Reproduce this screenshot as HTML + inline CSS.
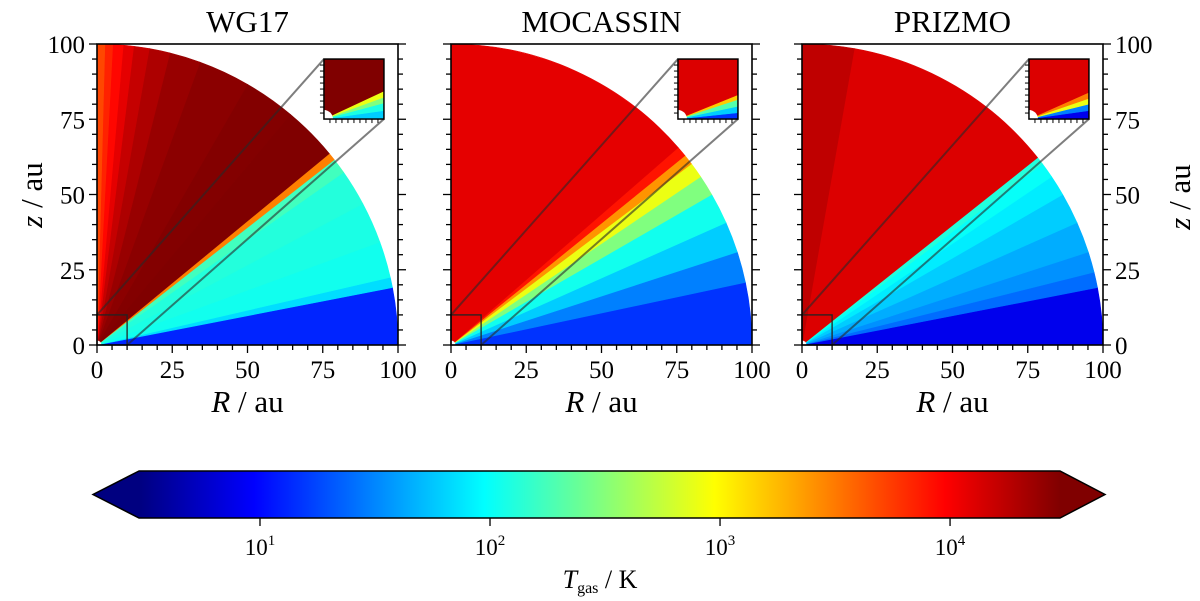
<!DOCTYPE html>
<html><head><meta charset="utf-8"><style>
html,body{margin:0;padding:0;background:#fff}
svg{display:block;font-family:"Liberation Serif",serif}
</style></head><body>
<svg id="fig" width="1200" height="601" viewBox="0 0 1200 601"></svg>
<script>
// ---- data ----
const panelTitles = ["WG17","MOCASSIN","PRIZMO"];
const axisTicks = [0,25,50,75,100];
const wg17Angles = [0,11,13,20,28,35,38,39.5,50,60,70,76,80,83,85,87,88.5,90];
const wg17Temps  = [13,70,110,120,130,170,3000,30000,29000,27000,24000,20000,16000,12000,9000,7000,5000];
const mocAngles = [0,12,18,24,30,34,37,39,41,90];
const mocTemps  = [15,30,60,110,300,800,2500,8000,12000];
const priAngles = [0,11,14,18,24,30,34,37,38.5,80,90];
const priTemps  = [8,25,35,45,60,80,100,130,13000,17000];
const wg17InsetAngles = [0,8,15,20,25,90];
const wg17InsetTemps  = [60,120,300,800,30000];
const mocInsetAngles = [0,6,12,18,22,90];
const mocInsetTemps  = [15,60,200,1500,13000];
const priInsetAngles = [0,8,14,19,24,90];
const priInsetTemps  = [8,30,800,3000,13000];
const cbarTicks = [1,2,3,4];
const cbarMinLog = 0.474, cbarMaxLog = 4.478;

// ---- layout ----
const NS="http://www.w3.org/2000/svg";
const svg=document.getElementById('fig');
const panelX0=[97,451,802], Y0=345, S=3.01;
function el(tag,attrs,parent){const e=document.createElementNS(NS,tag);for(const k in attrs)e.setAttribute(k,attrs[k]);(parent||svg).appendChild(e);return e;}
function jet(x){x=Math.max(0,Math.min(1,x));const c=v=>Math.round(255*Math.max(0,Math.min(1,v)));
 return `rgb(${c(1.5-Math.abs(4*x-3))},${c(1.5-Math.abs(4*x-2))},${c(1.5-Math.abs(4*x-1))})`;}
function tColor(T){return jet((Math.log10(T)-cbarMinLog)/(cbarMaxLog-cbarMinLog));}
function sector(cx,cy,r,a0,a1){const A=a=>a*Math.PI/180;
 return `M${cx},${cy}L${cx+r*Math.cos(A(a0))},${cy-r*Math.sin(A(a0))}A${r},${r} 0 0 0 ${cx+r*Math.cos(A(a1))},${cy-r*Math.sin(A(a1))}Z`;}

const panelAngles=[wg17Angles,mocAngles,priAngles], panelTemps=[wg17Temps,mocTemps,priTemps];
const insetAngles=[wg17InsetAngles,mocInsetAngles,priInsetAngles], insetTemps=[wg17InsetTemps,mocInsetTemps,priInsetTemps];

for(let p=0;p<3;p++){
 const x0=panelX0[p], g=el('g',{},svg);
 
 
 const X=v=>x0+v*S, Y=v=>Y0-v*S;
 const ang=panelAngles[p], tem=panelTemps[p];
 for(let i=0;i<tem.length;i++){
  const s=el('path',{d:sector(X(0),Y(0),100*S,ang[i],ang[i+1]),fill:tColor(tem[i]),stroke:tColor(tem[i]),'stroke-width':0.6},g);
  
  
 }
 el('circle',{cx:X(0),cy:Y(0),r:1.5*S,fill:'#fff'},g);
 const ix=X(75.4), iy=Y(95), iw=60;
 el('rect',{x:X(0),y:Y(10),width:10*S,height:10*S,fill:'none',stroke:'#222','stroke-width':1.3},g);
 el('line',{x1:X(0),y1:Y(10),x2:ix,y2:iy,stroke:'rgba(40,40,40,0.6)','stroke-width':2},g);
 el('line',{x1:X(10),y1:Y(0),x2:ix+iw,y2:iy+iw,stroke:'rgba(40,40,40,0.6)','stroke-width':2},g);
 const ig=el('g',{},g);
 
 
 const cp=el('clipPath',{id:'ic'+p},ig); el('rect',{x:ix,y:iy,width:iw,height:iw},cp);
 const ic=el('g',{'clip-path':`url(#ic${p})`},ig);
 el('rect',{x:ix,y:iy,width:iw,height:iw,fill:'#fff'},ic);
 const ia=insetAngles[p], it=insetTemps[p];
 for(let i=0;i<it.length;i++){
  el('path',{d:sector(ix,iy+iw,iw*1.5,ia[i],ia[i+1]),fill:tColor(it[i]),stroke:tColor(it[i]),'stroke-width':0.5},ic);
 }
 el('circle',{cx:ix,cy:iy+iw,r:9,fill:'#fff'},ic);
 el('rect',{x:ix,y:iy,width:iw,height:iw,fill:'none',stroke:'#000','stroke-width':1.5},ig);
 for(let k=1;k<10;k++){
  el('line',{x1:ix,y1:iy+k*6,x2:ix-4,y2:iy+k*6,stroke:'#000','stroke-width':1},ig);
  el('line',{x1:ix+k*6,y1:iy+iw,x2:ix+k*6,y2:iy+iw+4,stroke:'#000','stroke-width':1},ig);
 }
 el('rect',{x:X(0),y:Y(100),width:100*S,height:100*S,fill:'none',stroke:'#000','stroke-width':1.6},g);
 for(let v=0;v<=100;v+=5){
  const major=v%25===0, L=major?8:5;
  el('line',{x1:X(0),y1:Y(v),x2:X(0)-L,y2:Y(v),stroke:'#000','stroke-width':1.3},g);
  el('line',{x1:X(100),y1:Y(v),x2:X(100)+L,y2:Y(v),stroke:'#000','stroke-width':1.3},g);
  el('line',{x1:X(v),y1:Y(0),x2:X(v),y2:Y(0)+L,stroke:'#000','stroke-width':1.3},g);
 }
 axisTicks.forEach(v=>{
  const t=el('text',{x:X(v),y:Y(0)+33,'font-size':25,'text-anchor':'middle'},g); t.textContent=v;
   
  if(p===0){const t2=el('text',{x:X(0)-12,y:Y(v)+9,'font-size':25,'text-anchor':'end'},g);t2.textContent=v;
    }
  if(p===2){const t2=el('text',{x:X(100)+12,y:Y(v)+9,'font-size':25,'text-anchor':'start'},g);t2.textContent=v;
    }
 });
 const ti=el('text',{x:X(50),y:32,'font-size':31,'text-anchor':'middle'},g); ti.textContent=panelTitles[p];
  
 const xl=el('text',{x:X(50),y:412,'font-size':31,'text-anchor':'middle'},g);
 xl.innerHTML='<tspan font-style="italic">R</tspan> / au';
  
}
const yl=el('text',{x:0,y:0,'font-size':31,'text-anchor':'middle',transform:'translate(42,195) rotate(-90)'});
yl.innerHTML='<tspan font-style="italic">z</tspan> / au';
 
const yr=el('text',{x:0,y:0,'font-size':31,'text-anchor':'middle',transform:'translate(1190,197) rotate(-90)'});
yr.innerHTML='<tspan font-style="italic">z</tspan> / au';
 

// ---- colorbar ----
const cbL=139, cbR=1060, cbT=471, cbB=518, tipL=93, tipR=1105;
const LX=l=>cbL+(l-cbarMinLog)/(cbarMaxLog-cbarMinLog)*(cbR-cbL);
const defs=el('defs',{});
const grad=el('linearGradient',{id:'jetg',x1:cbL,x2:cbR,y1:0,y2:0,gradientUnits:'userSpaceOnUse'},defs);
for(let i=0;i<=40;i++){el('stop',{offset:i/40,'stop-color':jet(i/40)},grad);}
const cb=el('g',{});


el('rect',{x:cbL,y:cbT,width:cbR-cbL,height:cbB-cbT,fill:'url(#jetg)'},cb);
el('path',{d:`M${cbL},${cbT}L${tipL},${(cbT+cbB)/2}L${cbL},${cbB}Z`,fill:jet(0)},cb);
el('path',{d:`M${cbR},${cbT}L${tipR},${(cbT+cbB)/2}L${cbR},${cbB}Z`,fill:jet(1)},cb);
el('path',{d:`M${cbL},${cbT}L${tipL},${(cbT+cbB)/2}L${cbL},${cbB}L${cbR},${cbB}L${tipR},${(cbT+cbB)/2}L${cbR},${cbT}Z`,fill:'none',stroke:'#000','stroke-width':1.5},cb);
cbarTicks.forEach(l=>{
 el('line',{x1:LX(l),y1:cbB,x2:LX(l),y2:cbB+8,stroke:'#000','stroke-width':1.3},cb);
 const t=el('text',{x:LX(l),y:555,'font-size':23,'text-anchor':'middle'},cb);
 t.innerHTML=`10<tspan font-size="15" dy="-10">${l}</tspan>`;
  
});
const cl=el('text',{x:600,y:588,'font-size':26,'text-anchor':'middle'},cb);
cl.innerHTML='<tspan font-style="italic">T</tspan><tspan font-size="16" dy="5">gas</tspan><tspan dy="-5"> / K</tspan>';
 
</script>
</body></html>
